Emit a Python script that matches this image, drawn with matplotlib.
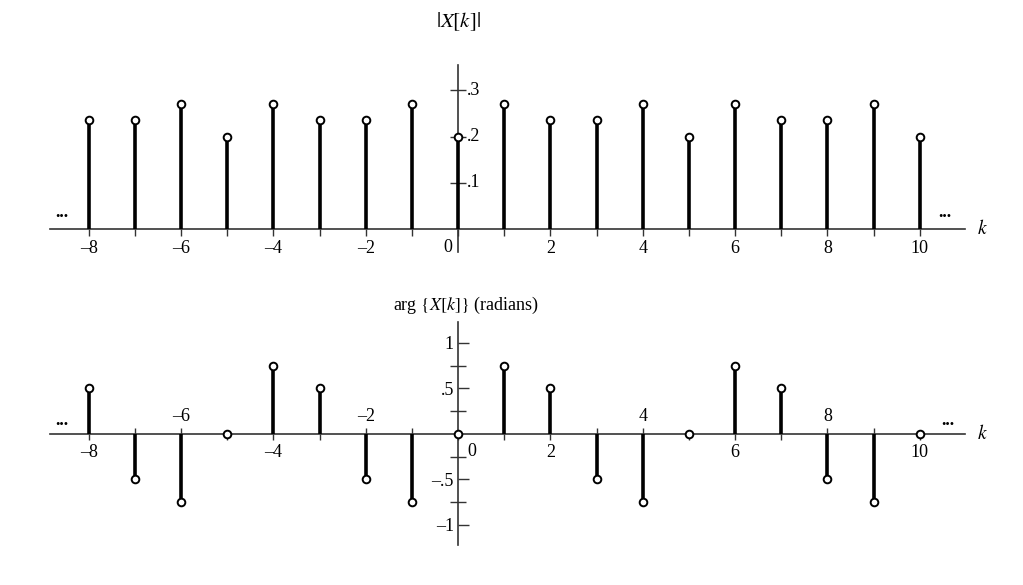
import numpy as np
import matplotlib
matplotlib.use("Agg")
import matplotlib.pyplot as plt
import matplotlib.transforms as mtransforms

plt.rcParams["font.family"] = ["Liberation Serif", "DejaVu Serif"]
plt.rcParams["mathtext.fontset"] = "stix"

# data
k = np.arange(-8, 11)
mag = [0.235, 0.235, 0.27, 0.2, 0.27, 0.235, 0.235, 0.27, 0.2, 0.27,
       0.235, 0.235, 0.27, 0.2, 0.27, 0.235, 0.235, 0.27, 0.2]
phase = [0.5, -0.5, -0.75, 0.0, 0.75, 0.5, -0.5, -0.75, 0.0, 0.75,
         0.5, -0.5, -0.75, 0.0, 0.75, 0.5, -0.5, -0.75, 0.0]
k_labels = [-8, -6, -4, -2, 0, 2, 4, 6, 8, 10]
mag_ticks = [0.1, 0.2, 0.3]
mag_tick_labels = [".1", ".2", ".3"]
ph_ticks = [-1, -0.5, 0.5, 1]
ph_tick_labels = ["\u20131", "\u2013.5", ".5", "1"]
ph_minor = [-0.75, -0.25, 0.25, 0.75]

W, H = 1023, 585
fig = plt.figure(figsize=(W / 100, H / 100), dpi=100)
XL = (-8.84, 10.98)
axcol = "#333333"


def frac(left, top, right, bottom):
    return [left / W, 1 - bottom / H, (right - left) / W, (bottom - top) / H]


def klab(v):
    return "\u2013%d" % abs(v) if v < 0 else str(v)


def setup(ax, ylim):
    ax.set_xlim(*XL)
    ax.set_ylim(*ylim)
    for s in ["top", "right"]:
        ax.spines[s].set_visible(False)
    ax.spines["left"].set_position(("data", 0))
    ax.spines["bottom"].set_position(("data", 0))
    for s in ["left", "bottom"]:
        ax.spines[s].set_color(axcol)
        ax.spines[s].set_linewidth(1.2)
    ax.patch.set_alpha(0)


def stems(ax, y):
    ml, sl, bl = ax.stem(k, y, linefmt="k-", markerfmt="o", basefmt=" ")
    sl.set_linewidth(2.6)
    sl.set_zorder(3)
    ml.set_markerfacecolor("white")
    ml.set_markeredgecolor("black")
    ml.set_markersize(5.5)
    ml.set_markeredgewidth(1.4)
    ml.set_zorder(4)


fs = 13

# -------- top: magnitude --------
ax1 = fig.add_axes(frac(50, 65, 965, 252))
setup(ax1, (-0.05, 0.355))
stems(ax1, mag)
ax1.set_xticks(k)
top_labels = []
for v in k:
    if v in k_labels and v != 0:
        top_labels.append(klab(v))
    else:
        top_labels.append("")
ax1.set_xticklabels(top_labels, fontsize=fs)
ax1.tick_params(axis="x", direction="out", length=5, width=1, color=axcol, pad=3)
ax1.set_yticks(mag_ticks)
ax1.set_yticklabels([])
ax1.tick_params(axis="y", direction="inout", length=12, width=1, color=axcol)
off = mtransforms.offset_copy(ax1.transData, fig=fig, x=9, y=0, units="dots")
for v, lab in zip(mag_ticks, mag_tick_labels):
    ax1.text(0, v, lab, transform=off, ha="left", va="center", fontsize=fs)
off0 = mtransforms.offset_copy(ax1.transData, fig=fig, x=-10, y=-19, units="dots")
ax1.text(0, 0, "0", transform=off0, ha="center", va="center", fontsize=fs)
ax1.text(-8.58, 0.035, "...", ha="center", va="center", fontsize=13, fontweight="bold")
ax1.text(10.55, 0.035, "...", ha="center", va="center", fontsize=13, fontweight="bold")
ax1.text(11.35, 0.0, "$k$", ha="center", va="center", fontsize=14, clip_on=False)
fig.text(458 / W, 1 - 22 / H, r"$|X[k]|$", ha="center", va="center", fontsize=15)

# -------- bottom: phase --------
ax2 = fig.add_axes(frac(50, 322, 965, 545))
setup(ax2, (-1.22, 1.23))
stems(ax2, phase)
ax2.set_xticks([])
ax2.set_yticks(ph_ticks)
ax2.set_yticklabels(ph_tick_labels, fontsize=fs)
ax2.set_yticks(ph_minor, minor=True)
ax2.tick_params(axis="y", which="major", direction="in", length=8, width=1, color=axcol, pad=3)
ax2.tick_params(axis="y", which="minor", direction="inout", length=12, width=1, color=axcol)
tick_h = 6 / 91
ph = np.array(phase)
ax2.vlines(k, 0, np.where(ph < 0, tick_h, -tick_h), color=axcol, lw=1, zorder=2)
for v in k_labels:
    val = ph[list(k).index(v)]
    if v == 0:
        tr = mtransforms.offset_copy(ax2.transData, fig=fig, x=14, y=-18, units="dots")
    elif val < 0:
        tr = mtransforms.offset_copy(ax2.transData, fig=fig, x=0, y=17, units="dots")
    else:
        tr = mtransforms.offset_copy(ax2.transData, fig=fig, x=0, y=-19, units="dots")
    ax2.text(v, 0, klab(v), transform=tr, ha="center", va="center", fontsize=fs)
ax2.text(-8.58, 0.15, "...", ha="center", va="center", fontsize=13, fontweight="bold")
ax2.text(10.6, 0.15, "...", ha="center", va="center", fontsize=13, fontweight="bold")
ax2.text(11.35, 0.0, "$k$", ha="center", va="center", fontsize=14, clip_on=False)
fig.text(466 / W, 1 - 305 / H, r"arg $\{X[k]\}$ (radians)", ha="center", va="center", fontsize=13)

fig.savefig("out.png", dpi=100)
